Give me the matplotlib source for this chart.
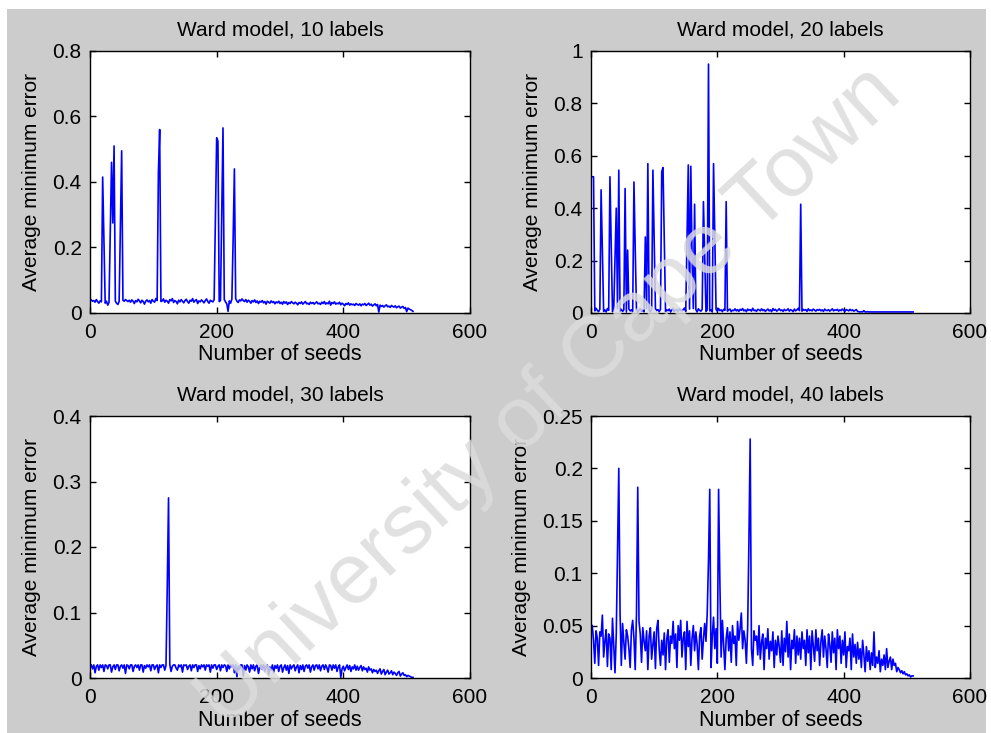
import matplotlib
matplotlib.use('Agg')
import matplotlib.pyplot as plt
from matplotlib.patches import Rectangle
from matplotlib.ticker import FormatStrFormatter
import numpy as np

plt.rcParams['font.family'] = ['Liberation Sans', 'DejaVu Sans']

# seeds are sampled every 2 (2, 4, ..., 510); baselines in thousandths
base_10 = [40,36,38,33,41,35,30,37,34,42,8,30,36,24,32,
           38,28,34,22,36,30,26,35,40,37,39,36,41,38,35,
           39,33,40,36,29,38,34,42,37,31,39,35,27,36,40,
           34,38,30,41,36,33,44,38,29,40,35,37,43,33,39,
           36,30,41,37,44,32,38,35,28,39,34,41,36,31,38,
           42,35,30,39,36,44,33,38,41,29,37,34,40,36,31,
           38,43,35,30,39,36,34,41,37,33,40,35,38,30,36,
           41,34,28,5,37,30,42,35,39,44,36,32,40,37,43,
           38,35,41,33,39,36,30,38,34,40,32,37,29,36,33,
           38,31,35,27,36,33,30,37,32,35,28,34,31,36,29,
           33,27,35,30,34,26,32,29,35,31,28,33,30,25,32,
           29,34,27,31,35,28,30,26,33,29,32,27,31,34,28,
           30,26,33,29,35,27,31,28,36,24,32,29,34,27,30,
           28,33,25,30,27,22,29,26,31,24,28,25,27,23,29,
           26,24,28,22,27,25,29,23,26,30,24,27,21,25,28,
           22,26,3,24,20,23,18,22,25,19,21,17,23,20,18,
           22,16,19,21,15,18,20,14,17,4,15,12,10,8,5]
spike_x_10 = [20, 22, 32, 34, 36, 38, 48, 50, 108, 110, 198, 200, 202, 208, 210, 226, 228]
spike_y_10 = [0.415, 0.225, 0.25, 0.46, 0.275, 0.51, 0.27, 0.495, 0.43, 0.56,
              0.28, 0.535, 0.525, 0.30, 0.565, 0.225, 0.44]

base_20 = [15,12,8,18,10,5,14,9,16,6,12,4,17,10,8,
           13,5,15,9,3,18,11,7,14,6,12,16,4,10,15,
           8,12,5,17,9,14,3,11,16,7,13,5,10,18,8,
           12,4,15,10,6,17,9,13,5,14,8,11,16,6,12,
           9,15,4,12,18,7,10,14,5,16,11,8,13,19,6,
           12,9,15,5,11,17,8,13,4,16,10,7,14,9,18,
           6,12,15,8,11,4,16,10,13,7,17,9,12,5,14,
           10,18,7,12,15,5,11,9,16,8,13,6,14,10,17,
           8,12,5,15,10,13,7,18,9,11,6,14,12,8,16,
           9,13,6,11,15,8,12,5,17,10,14,7,11,16,9,
           12,6,14,9,11,16,7,13,10,5,15,8,12,18,9,
           11,7,14,10,13,6,16,9,12,8,15,11,7,13,10,
           14,8,12,6,15,10,9,13,7,11,16,8,12,10,14,
           7,12,9,15,10,6,13,11,8,14,9,12,7,10,13,
           6,5,4,5,4,9,4,4,5,4,4,4,4,4,4,
           4,4,4,4,4,4,4,4,4,4,4,4,4,4,4,
           4,4,4,4,4,4,4,4,4,4,4,4,4,4,4]
spike_x_20 = [2, 4, 16, 18, 30, 32, 38, 40, 44, 54, 58, 68, 70, 86, 90, 98, 100,
              112, 114, 116, 152, 154, 158, 160, 164, 178, 180, 186, 194, 196, 214, 332]
spike_y_20 = [0.52, 0.52, 0.47, 0.23, 0.52, 0.255, 0.20, 0.40, 0.545, 0.475, 0.24,
              0.50, 0.245, 0.29, 0.57, 0.545, 0.27, 0.54, 0.555, 0.27, 0.29, 0.565,
              0.56, 0.21, 0.415, 0.425, 0.22, 0.95, 0.57, 0.285, 0.425, 0.415]

base_30 = [20,14,20,8,18,20,12,20,16,20,10,20,19,14,20,
           20,9,17,20,13,20,20,11,18,20,15,20,7,20,19,
           14,20,20,10,18,20,16,20,12,20,20,9,19,15,20,
           17,20,11,20,20,13,18,20,8,20,16,20,20,12,19,
           20,14,20,10,18,20,20,15,12,20,17,20,9,20,19,
           20,13,18,20,11,20,16,20,20,10,19,14,20,17,20,
           12,20,18,20,9,20,15,20,20,13,18,20,11,20,16,
           20,19,10,20,14,20,17,20,8,20,2,18,13,20,20,
           3,19,12,20,17,9,20,14,20,11,18,20,7,16,20,
           13,20,10,18,20,5,17,12,20,8,19,15,20,10,18,
           20,9,16,20,12,19,7,20,14,18,20,11,17,20,8,
           19,13,20,10,18,20,15,20,9,17,20,12,19,20,14,
           20,11,18,20,13,20,16,9,20,19,12,20,15,20,10,
           17,20,1,14,18,11,16,20,13,19,10,17,14,20,12,
           18,12,16,19,11,17,13,15,9,17,12,14,8,13,10,
           12,7,11,14,6,10,13,5,9,12,6,8,11,5,9,
           7,4,8,10,3,6,8,4,5,2,4,3,2,1,1]
spike_x_30 = [122, 124]
spike_y_30 = [0.14, 0.275]

base_40 = [50,36,14,45,38,12,44,40,60,20,35,46,11,42,38,
           8,57,30,5,42,60,45,30,12,52,34,18,46,40,28,
           10,46,55,38,8,61,30,54,42,15,48,35,26,45,8,
           40,48,18,32,44,9,47,55,27,12,36,22,43,8,38,
           46,15,40,33,54,28,42,10,50,36,55,20,38,44,8,
           54,30,45,12,38,50,26,44,32,8,40,48,18,37,52,
           35,62,25,45,10,40,58,28,47,14,39,44,20,55,32,
           8,38,48,26,44,15,50,33,40,12,54,36,47,62,28,
           45,36,14,48,38,50,28,12,45,36,40,22,50,18,34,
           42,8,38,28,47,18,35,26,44,10,36,22,40,30,15,
           45,12,38,25,54,20,42,8,36,28,46,14,40,22,38,
           18,44,28,36,12,46,24,40,8,45,30,16,46,26,38,
           12,35,46,20,40,28,10,42,32,15,44,24,38,8,46,
           28,40,14,36,22,44,10,30,26,38,8,42,20,32,14,
           34,18,28,10,36,22,6,30,16,26,8,24,12,44,10,
           20,14,26,6,18,12,22,8,28,10,16,20,8,18,12,
           14,6,10,8,5,7,4,6,3,4,2,3,1,2,2]
spike_x_40 = [42, 44, 46, 74, 186, 188, 202, 204, 250, 252]
spike_y_40 = [0.12, 0.20, 0.062, 0.182, 0.112, 0.18, 0.18, 0.093, 0.13, 0.228]

titles = ['Ward model, 10 labels', 'Ward model, 20 labels',
          'Ward model, 30 labels', 'Ward model, 40 labels']
y_tops = [0.8, 1.0, 0.4, 0.25]
y_steps = [0.2, 0.2, 0.1, 0.05]
x_ticks = [0, 200, 400, 600]

W, H = 991, 733
fig = plt.figure(figsize=(W / 100, H / 100), dpi=100, facecolor='white')
# grey MATLAB figure area (thin white margin top/left/right)
fig.add_artist(Rectangle((7 / W, 0), (986 - 7) / W, (H - 9) / H,
                         transform=fig.transFigure, facecolor='#cccccc',
                         edgecolor='none', zorder=0))

# axes boxes in pixels: left, top, right, bottom
boxes = [(90, 51, 470, 313), (591, 51, 970, 313),
         (90, 416, 470, 678), (591, 416, 970, 678)]
data = [(base_10, spike_x_10, spike_y_10), (base_20, spike_x_20, spike_y_20),
        (base_30, spike_x_30, spike_y_30), (base_40, spike_x_40, spike_y_40)]

fs = 15
for i in range(4):
    l, t, r, b = boxes[i]
    ax = fig.add_axes([l / W, 1 - b / H, (r - l) / W, (b - t) / H], zorder=1)
    base, sx, sy = data[i]
    y = np.array(base, dtype=float) / 1000
    x = 2 * np.arange(1, len(y) + 1)
    for xx, yy in zip(sx, sy):
        y[x == xx] = yy
    ax.plot(x, y, color='#0000ff', lw=1.2)
    ax.set_xlim(0, 600)
    ax.set_ylim(0, y_tops[i])
    ax.set_xticks(x_ticks)
    ax.set_yticks(np.arange(0, y_tops[i] + 1e-9, y_steps[i]))
    ax.yaxis.set_major_formatter(FormatStrFormatter('%g'))
    ax.tick_params(direction='in', length=4, width=1, top=True, right=True,
                   labelsize=fs, colors='black')
    ax.tick_params(axis='x', pad=7)
    ax.tick_params(axis='y', pad=6)
    for s in ax.spines.values():
        s.set_linewidth(1.0)
    ax.set_title(titles[i], fontsize=fs, pad=11)
    ax.set_xlabel('Number of seeds', fontsize=fs + 0.5, labelpad=2)
    ax.set_ylabel('Average minimum error', fontsize=fs, labelpad=8)

# watermark
fig.text(550 / W, 1 - 398 / H, 'University of Cape Town', fontsize=62,
         rotation=43, rotation_mode='anchor', ha='center', va='center',
         color='#dcdcdc', alpha=0.85, zorder=5)

fig.savefig('out.png', dpi=100, facecolor=fig.get_facecolor())
